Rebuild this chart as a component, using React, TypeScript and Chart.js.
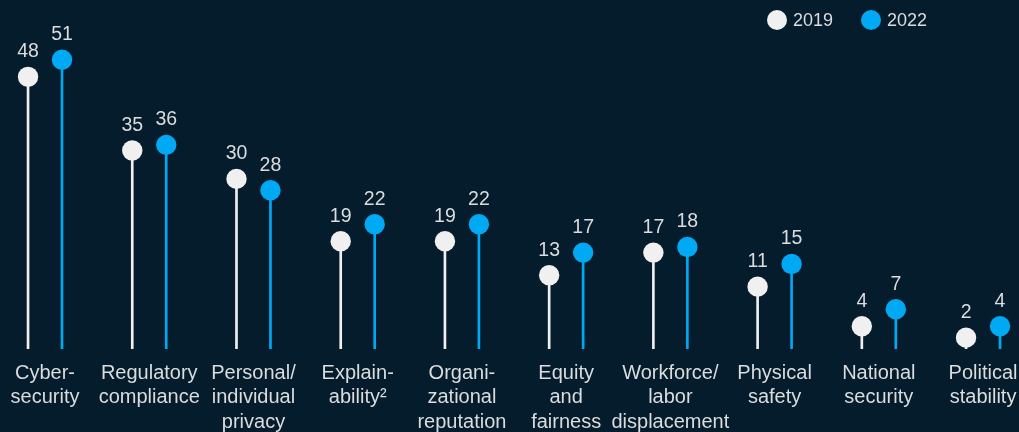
import React, { useEffect, useRef } from "react";
import { Chart, registerables } from "chart.js";

Chart.register(...registerables);

const categories: string[][] = [
  ["Cyber-", "security"],
  ["Regulatory", "compliance"],
  ["Personal/", "individual", "privacy"],
  ["Explain-", "ability²"],
  ["Organi-", "zational", "reputation"],
  ["Equity", "and", "fairness"],
  ["Workforce/", "labor", "displacement"],
  ["Physical", "safety"],
  ["National", "security"],
  ["Political", "stability"],
];
const seriesLabels = ["2019", "2022"];
const values2019 = [48, 35, 30, 19, 19, 13, 17, 11, 4, 2];
const values2022 = [51, 36, 28, 22, 22, 17, 18, 15, 7, 4];

const BG = "#051c2c";
const WHITE = "#f0f0f0";
const BLUE = "#00a9f4";
const TEXT = "#dadcde";
const FONT = "'Liberation Sans', Arial, sans-serif";
const OFF = 0.163;

export default function App() {
  const ref = useRef<HTMLCanvasElement | null>(null);

  useEffect(() => {
    if (!ref.current) return;
    const valueLabels = {
      id: "valueLabels",
      afterDatasetsDraw(chart: any) {
        const ctx = chart.ctx;
        ctx.save();
        ctx.font = `19.5px ${FONT}`;
        ctx.fillStyle = TEXT;
        ctx.textAlign = "center";
        ctx.textBaseline = "middle";
        [2, 3].forEach((di) => {
          const meta = chart.getDatasetMeta(di);
          const ds = chart.data.datasets[di];
          meta.data.forEach((pt: any, i: number) => {
            const v = (ds.data[i] as any).y;
            ctx.fillText(String(v), pt.x, pt.y - 25);
          });
        });
        ctx.restore();
      },
    };
    const legendPlugin = {
      id: "customLegend",
      afterDraw(chart: any) {
        const ctx = chart.ctx;
        ctx.save();
        const items = [
          { label: seriesLabels[0], color: WHITE, x: 777 },
          { label: seriesLabels[1], color: BLUE, x: 871 },
        ];
        ctx.font = `18px ${FONT}`;
        ctx.textAlign = "left";
        ctx.textBaseline = "middle";
        items.forEach((it) => {
          ctx.beginPath();
          ctx.arc(it.x, 20, 10, 0, Math.PI * 2);
          ctx.fillStyle = it.color;
          ctx.fill();
          ctx.fillStyle = TEXT;
          ctx.fillText(it.label, it.x + 16, 21.5);
        });
        ctx.restore();
      },
    };

    const chart = new Chart(ref.current, {
      type: "bar",
      data: {
        datasets: [
          {
            type: "bar",
            label: seriesLabels[0] + " stem",
            data: values2019.map((v, i) => ({ x: i - OFF, y: v })),
            backgroundColor: WHITE,
            barThickness: 2,
            grouped: false,
            order: 2,
          } as any,
          {
            type: "bar",
            label: seriesLabels[1] + " stem",
            data: values2022.map((v, i) => ({ x: i + OFF, y: v })),
            backgroundColor: BLUE,
            barThickness: 2,
            grouped: false,
            order: 2,
          } as any,
          {
            type: "scatter",
            label: seriesLabels[0],
            data: values2019.map((v, i) => ({ x: i - OFF, y: v })),
            backgroundColor: WHITE,
            borderWidth: 0,
            pointRadius: 10.2,
            order: 1,
          } as any,
          {
            type: "scatter",
            label: seriesLabels[1],
            data: values2022.map((v, i) => ({ x: i + OFF, y: v })),
            backgroundColor: BLUE,
            borderWidth: 0,
            pointRadius: 10.2,
            order: 1,
          } as any,
        ],
      },
      options: {
        animation: false,
        responsive: false,
        devicePixelRatio: 1,
        layout: { padding: 0, autoPadding: false },
        plugins: {
          legend: { display: false },
          tooltip: { enabled: false },
        },
        scales: {
          x: {
            type: "linear",
            offset: false,
            min: -0.432,
            max: 9.345,
            grid: { display: false, drawTicks: false, offset: false },
            border: { display: false },
            afterBuildTicks: (s: any) => {
              s.ticks = categories.map((_, i) => ({ value: i }));
            },
            afterFit: (s: any) => {
              s.height = 83;
              s.paddingLeft = 0;
              s.paddingRight = 0;
            },
            ticks: {
              autoSkip: false,
              maxRotation: 0,
              padding: 12,
              color: TEXT,
              font: { family: FONT, size: 20, lineHeight: 1.225 },
              callback: (v: any) => categories[Math.round(Number(v))] as any,
            },
          },
          y: {
            display: false,
            min: 0,
            max: 61.55,
          },
        },
      } as any,
      plugins: [valueLabels, legendPlugin],
    });
    return () => chart.destroy();
  }, []);

  return (
    <div
      style={{
        position: "fixed",
        left: 0,
        top: 0,
        width: 1019,
        height: 432,
        background: BG,
      }}
    >
      <canvas ref={ref} width={1019} height={432} style={{ display: "block" }} />
    </div>
  );
}
